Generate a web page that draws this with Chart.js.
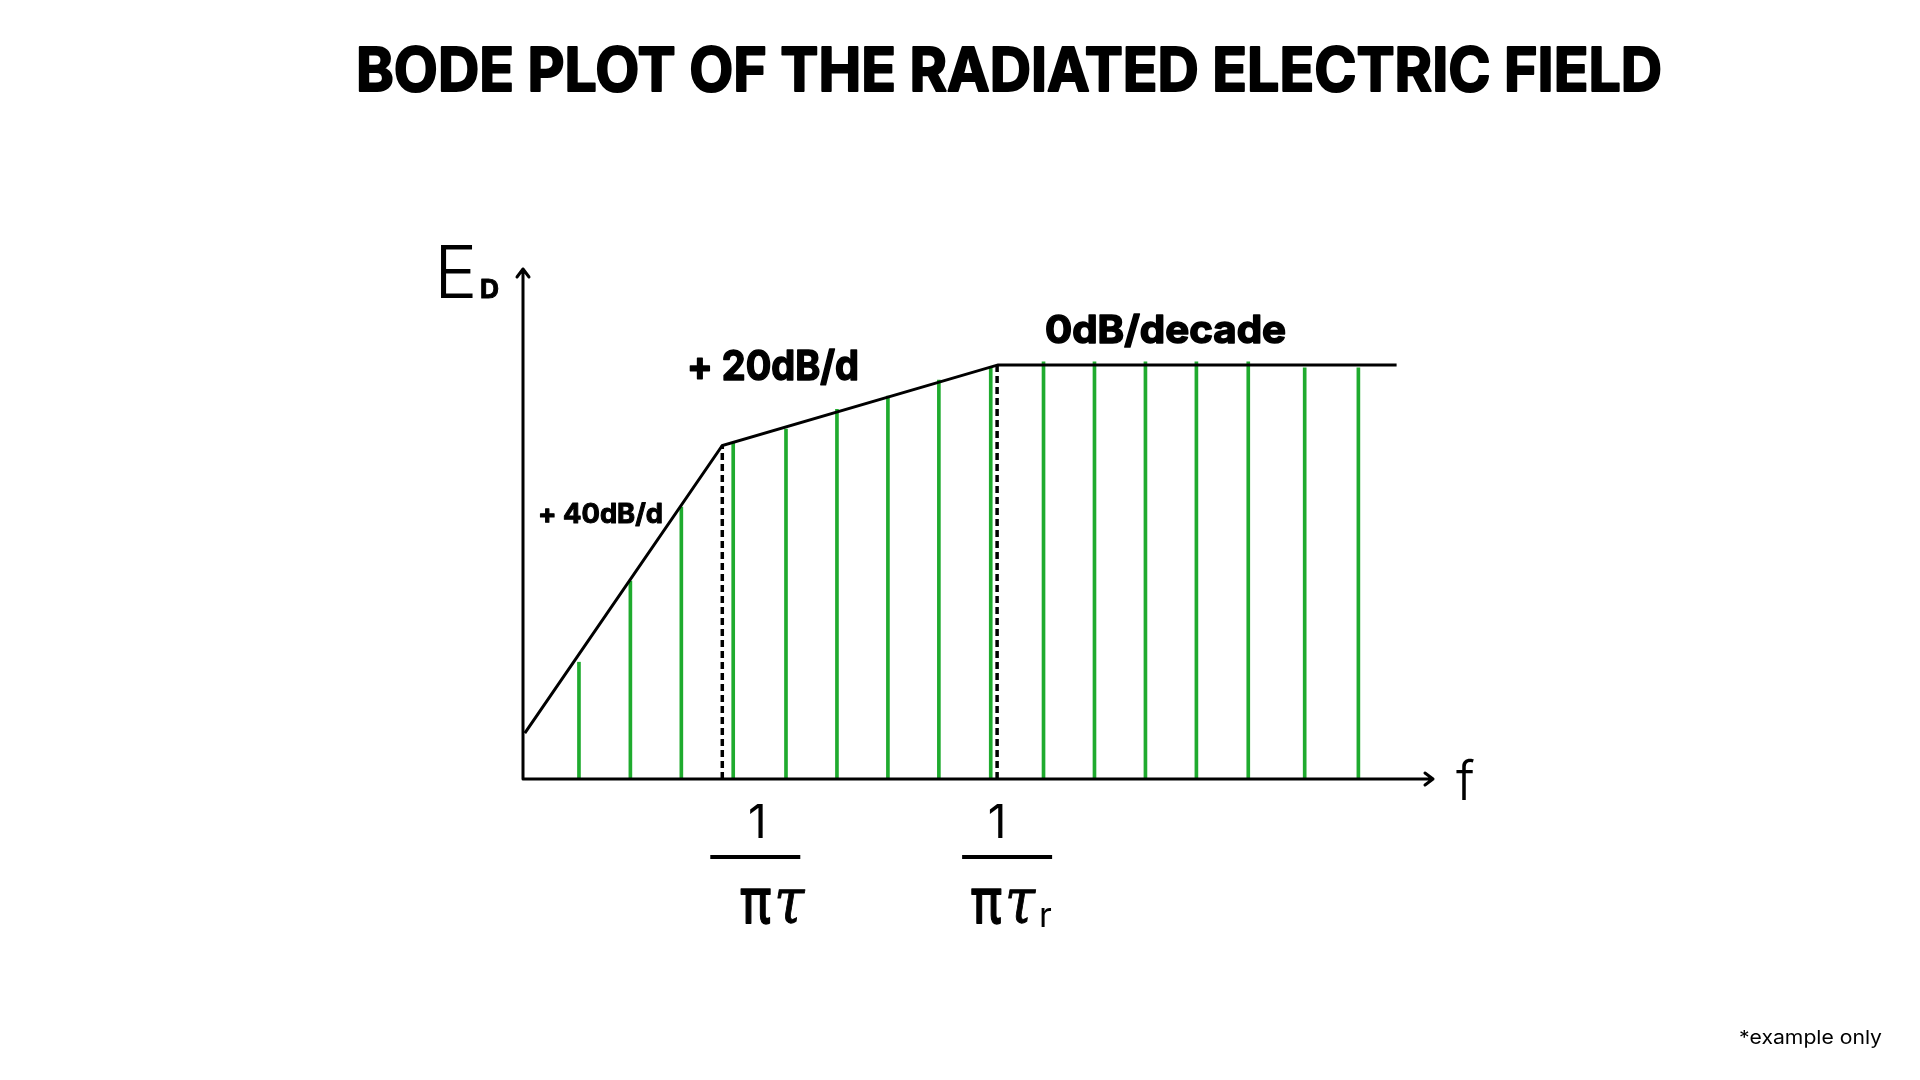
<!DOCTYPE html>
<html>
<head>
<meta charset="utf-8">
<script src="https://cdn.jsdelivr.net/npm/chart.js@4.4.1/dist/chart.umd.min.js"></script>
<style>
  html, body { margin: 0; padding: 0; background: #fff; }
  #wrap { width: 1920px; height: 1080px; position: relative; }
</style>
</head>
<body>
<div id="wrap"><canvas id="bode"></canvas></div>
<script>
// frequency axis in arbitrary log units (0 = origin), magnitude 0..100
const asymptoteX = [0.2, 21.9, 52.2, 96];
const asymptoteY = [9.0, 65.4, 81.2, 81.2];
const stemX = [6.15, 11.8, 17.4, 23.1, 28.9, 34.5, 40.1, 45.7, 51.4, 57.2, 62.8, 68.4, 74.0, 79.7, 85.9, 91.8];
const stemY = [22.9, 38.8, 53.3, 65.9, 68.6, 72.5, 75.1, 78.2, 80.6, 81.8, 81.8, 81.8, 81.8, 81.8, 80.6, 80.6];
const cornerX = [21.9, 52.1];
const cornerY = [65.4, 81.2];
const cornerLabels = [["1", "\u03c0", "\u03c4", ""], ["1", "\u03c0", "\u03c4", "r"]];
const slopeLabels = ["+ 40dB/d", "+ 20dB/d", "0dB/decade"];
const titleText = 'BODE PLOT OF THE RADIATED ELECTRIC FIELD';

const stems = stemX.map((x, i) => ({ x: x, y: stemY[i] }));
const asymptote = asymptoteX.map((x, i) => ({ x: x, y: asymptoteY[i] }));
const dashed = cornerX.map((x, i) => ({
  type: 'line',
  data: [{ x: x, y: 0 }, { x: x, y: cornerY[i] }],
  borderColor: '#000',
  borderWidth: 3.5,
  borderDash: [7, 4],
  pointRadius: 0,
  clip: false,
  order: 1
}));

// draw text squeezed/stretched to a given width, optional stroke to make it heavier
function fitText(ctx, text, x, y, width, heavy) {
  const w = ctx.measureText(text).width;
  ctx.save();
  ctx.translate(x, y);
  ctx.scale(width / w, 1);
  ctx.fillText(text, 0, 0);
  if (heavy) {
    ctx.lineWidth = heavy;
    ctx.lineJoin = 'round';
    ctx.strokeText(text, 0, 0);
  }
  ctx.restore();
}

const drawing = {
  id: 'drawing',
  afterDatasetsDraw(chart) {
    const ctx = chart.ctx;
    const xs = chart.scales.x, ys = chart.scales.y;
    const x0 = xs.getPixelForValue(0), y0 = ys.getPixelForValue(0);
    const xe = xs.getPixelForValue(100), ye = ys.getPixelForValue(100);
    ctx.save();
    ctx.strokeStyle = '#000';
    ctx.lineWidth = 3;
    ctx.lineCap = 'round';
    ctx.lineJoin = 'round';
    // axes with open arrow heads
    ctx.beginPath();
    ctx.moveTo(x0, y0); ctx.lineTo(x0, ye);
    ctx.moveTo(x0 - 6, ye + 8); ctx.lineTo(x0, ye); ctx.lineTo(x0 + 6, ye + 8);
    ctx.moveTo(x0, y0); ctx.lineTo(xe, y0);
    ctx.moveTo(xe - 8, y0 - 6); ctx.lineTo(xe, y0); ctx.lineTo(xe - 8, y0 + 6);
    ctx.stroke();

    ctx.fillStyle = '#000';
    ctx.textBaseline = 'alphabetic';
    ctx.textAlign = 'left';

    // title
    ctx.font = '700 61px Inter';
    fitText(ctx, titleText, 356, 91, 1306, 2);

    // axis names
    ctx.font = '300 73px Inter';
    ctx.fillText('E', 434, 298);
    ctx.font = '700 26px Inter';
    fitText(ctx, 'D', 480, 298, 19, 1);
    ctx.font = '300 54px Inter';
    ctx.fillText('f', 1456, 800);

    // slope labels
    ctx.font = '700 27px Inter';
    fitText(ctx, slopeLabels[0], 538, 523, 125, 1);
    ctx.font = '700 41px Inter';
    fitText(ctx, slopeLabels[1], 687, 380, 172, 1.5);
    ctx.font = '700 38px Inter';
    fitText(ctx, slopeLabels[2], 1045, 343, 241, 1.5);

    // corner frequency fractions
    const offs = [{ one: 35, bar: 33, den: 18 }, { one: 0, bar: 10, den: -26 }];
    cornerX.forEach((cx, i) => {
      const px = xs.getPixelForValue(cx);
      const o = offs[i];
      const lab = cornerLabels[i];
      ctx.textAlign = 'center';
      ctx.font = '400 46px Inter';
      ctx.fillText(lab[0], px + o.one, 838);
      ctx.lineWidth = 4;
      ctx.lineCap = 'butt';
      ctx.beginPath();
      ctx.moveTo(px + o.bar - 45, 857);
      ctx.lineTo(px + o.bar + 45, 857);
      ctx.stroke();
      ctx.textAlign = 'left';
      ctx.font = '500 64px "Noto Sans"';
      fitText(ctx, lab[1], px + o.den, 923, 31, 1.5);
      ctx.font = 'italic 64px "DejaVu Serif"';
      fitText(ctx, lab[2], px + o.den + 34, 923, 30, 1);
      if (lab[3]) {
        ctx.font = '400 34px Inter';
        ctx.fillText(lab[3], 1039, 927);
      }
    });

    ctx.font = '400 19px Inter';
    fitText(ctx, '*example only', 1739, 1044, 143, 0);
    ctx.restore();
  }
};

new Chart(document.getElementById('bode'), {
  type: 'bar',
  data: {
    datasets: [
      {
        type: 'line',
        data: asymptote,
        borderColor: '#000',
        borderWidth: 3,
        pointRadius: 0,
        tension: 0,
        clip: false,
        order: 0
      },
      ...dashed,
      {
        type: 'bar',
        data: stems,
        backgroundColor: '#1fab2e',
        barThickness: 3,
        order: 2
      }
    ]
  },
  options: {
    responsive: true,
    maintainAspectRatio: false,
    animation: false,
    layout: { padding: { left: 523, right: 487, top: 269, bottom: 301 } },
    plugins: {
      legend: { display: false },
      tooltip: { enabled: false },
      title: { display: false }
    },
    scales: {
      x: { type: 'linear', min: 0, max: 100, offset: false, display: false },
      y: { min: 0, max: 100, display: false }
    }
  },
  plugins: [drawing]
});
</script>
</body>
</html>
